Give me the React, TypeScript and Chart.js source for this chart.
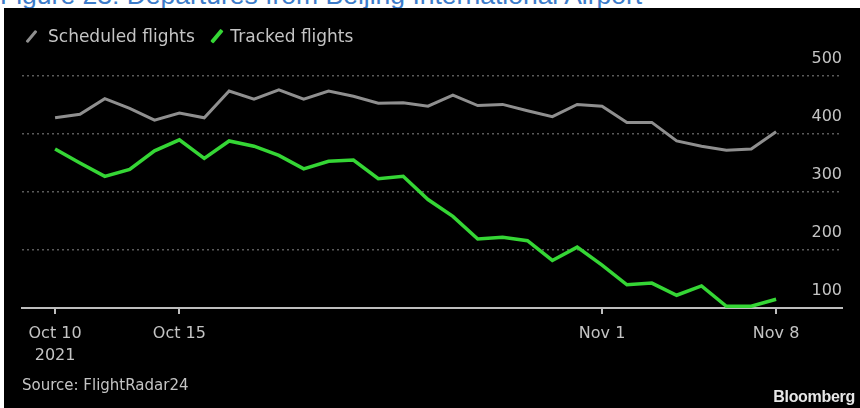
import React, { useEffect, useRef } from 'react';
import { Chart, registerables } from 'chart.js';

Chart.register(...registerables);

const dates = [
  'Oct 10', 'Oct 11', 'Oct 12', 'Oct 13', 'Oct 14', 'Oct 15', 'Oct 16', 'Oct 17', 'Oct 18', 'Oct 19',
  'Oct 20', 'Oct 21', 'Oct 22', 'Oct 23', 'Oct 24', 'Oct 25', 'Oct 26', 'Oct 27', 'Oct 28', 'Oct 29',
  'Oct 30', 'Oct 31', 'Nov 1', 'Nov 2', 'Nov 3', 'Nov 4', 'Nov 5', 'Nov 6', 'Nov 7', 'Nov 8',
];
const scheduled = [
  428, 434, 461, 444, 424, 436, 428, 474, 460, 476,
  460, 474, 465, 453, 454, 448, 467, 449, 451, 440,
  430, 451, 448, 420, 420, 388, 379, 372, 374, 404,
];
const tracked = [
  374, 350, 327, 339, 371, 390, 358, 388, 379, 363,
  340, 353, 355, 323, 327, 287, 258, 219, 222, 216,
  182, 205, 174, 140, 143, 122, 138, 103, 103, 115,
];
const xTickDates = ['Oct 10', 'Oct 15', 'Nov 1', 'Nov 8'];
const xTickLabels: string[][] = [['Oct 10', '2021'], ['Oct 15'], ['Nov 1'], ['Nov 8']];
const yTicks = [100, 200, 300, 400, 500];
const seriesNames = ['Scheduled flights', 'Tracked flights'];

const GRAY = '#8f8f8f';
const GREEN = '#35d635';
const TEXT = '#c4c4c4';

export default function App() {
  const ref = useRef<HTMLCanvasElement | null>(null);

  useEffect(() => {
    if (!ref.current) return;
    const tickIdx = xTickDates.map((d) => dates.indexOf(d));
    const chart = new Chart(ref.current, {
      type: 'line',
      data: {
        datasets: [
          {
            label: seriesNames[0],
            data: scheduled.map((v, i) => ({ x: i, y: v })),
            borderColor: GRAY,
            borderWidth: 3,
            pointRadius: 0,
            tension: 0,
          },
          {
            label: seriesNames[1],
            data: tracked.map((v, i) => ({ x: i, y: v })),
            borderColor: GREEN,
            borderWidth: 3.5,
            pointRadius: 0,
            tension: 0,
          },
        ],
      },
      options: {
        animation: false,
        responsive: false,
        maintainAspectRatio: false,
        layout: { padding: { left: 18, right: 18, top: 68, bottom: 40 } },
        plugins: { legend: { display: false }, tooltip: { enabled: false } },
        scales: {
          x: {
            type: 'linear',
            min: -1.33,
            max: 31.65,
            afterBuildTicks: (scale: any) => {
              scale.ticks = tickIdx.map((v) => ({ value: v }));
            },
            afterFit: (scale: any) => {
              scale.height = 60;
            },
            ticks: {
              autoSkip: false,
              maxRotation: 0,
              padding: 9,
              color: TEXT,
              font: { family: 'DejaVu Sans', size: 16, lineHeight: 1.375 },
              callback: (value: any) => {
                const k = tickIdx.indexOf(Number(value));
                return k >= 0 ? xTickLabels[k] : '';
              },
            },
            grid: {
              drawOnChartArea: false,
              drawTicks: true,
              tickLength: 6,
              color: '#bdbdbd',
              lineWidth: 2,
            },
            border: { display: true, color: '#bdbdbd', width: 2 },
          },
          y: {
            position: 'right',
            min: yTicks[0],
            max: yTicks[yTicks.length - 1],
            afterBuildTicks: (scale: any) => {
              scale.ticks = yTicks.map((v) => ({ value: v }));
            },
            ticks: {
              mirror: true,
              padding: 0,
              labelOffset: -17,
              color: TEXT,
              font: { family: 'DejaVu Sans', size: 16 },
            },
            grid: {
              drawTicks: false,
              color: (ctx: any) => (ctx.tick && ctx.tick.value === 100 ? 'rgba(0,0,0,0)' : '#5a5a5a'),
              lineWidth: 1.5,
            },
            border: { display: false, dash: [2, 3] },
          },
        },
      },
    } as any);
    return () => chart.destroy();
  }, []);

  return (
    <div style={{ position: 'fixed', left: 0, top: 0, width: 860, height: 408, background: '#fff', overflow: 'hidden' }}>
      <div
        style={{
          position: 'absolute',
          left: 0,
          top: -20,
          fontFamily: 'Liberation Sans, Arial, sans-serif',
          fontSize: 26.5,
          lineHeight: '30px',
          color: '#3d7cc9',
          whiteSpace: 'nowrap',
        }}
      >
        Figure 23: Departures from Beijing International Airport
      </div>
      <div style={{ position: 'absolute', left: 4, top: 8, width: 856, height: 400, background: '#000' }}>
        <canvas ref={ref} width={856} height={400} style={{ position: 'absolute', left: 0, top: 0 }} />
        <div
          style={{
            position: 'absolute',
            left: 0,
            top: 16,
            height: 24,
            display: 'flex',
            alignItems: 'center',
            fontFamily: 'DejaVu Sans',
            fontSize: 17,
            color: TEXT,
            whiteSpace: 'nowrap',
          }}
        >
          <span style={{ display: 'inline-block', width: 3, height: 15, background: GRAY, transform: 'rotate(40deg)', marginLeft: 26, marginRight: 15, borderRadius: 1 }} />
          <span>{seriesNames[0]}</span>
          <span style={{ display: 'inline-block', width: 3.5, height: 16, background: GREEN, transform: 'rotate(40deg)', marginLeft: 20, marginRight: 12, borderRadius: 1 }} />
          <span>{seriesNames[1]}</span>
        </div>
        <div
          style={{
            position: 'absolute',
            left: 18,
            top: 368,
            fontFamily: 'DejaVu Sans',
            fontSize: 15,
            color: TEXT,
            whiteSpace: 'nowrap',
          }}
        >
          Source: FlightRadar24
        </div>
        <div
          style={{
            position: 'absolute',
            right: 5,
            top: 380,
            fontFamily: 'Liberation Sans, Arial, sans-serif',
            fontWeight: 'bold',
            fontSize: 16,
            letterSpacing: -0.3,
            color: '#e6e6e6',
            whiteSpace: 'nowrap',
          }}
        >
          Bloomberg
        </div>
      </div>
    </div>
  );
}
